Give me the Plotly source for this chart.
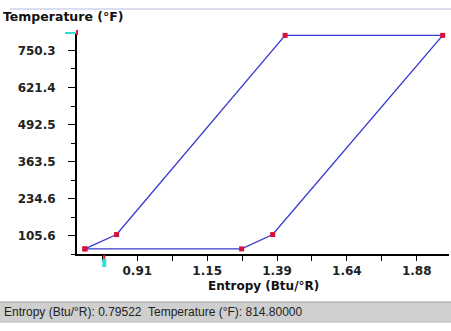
import plotly.graph_objects as go

# ---- data ----
entropy = [0.728, 0.838, 1.423, 1.970, 1.380, 1.272, 0.728]      # Btu/°R
temperature = [59.0, 109.0, 803.0, 803.0, 109.0, 59.0, 59.0]     # °F

x_tickvals = [0.91, 1.1525, 1.395, 1.6375, 1.88]
x_ticktext = ["0.91", "1.15", "1.39", "1.64", "1.88"]
x_minor = [0.78875, 1.03125, 1.27375, 1.51625, 1.75875]
x_range = [0.7006, 1.992]

y_tickvals = [105.6, 234.6, 363.5, 492.5, 621.4, 750.3]
y_ticktext = ["105.6", "234.6", "363.5", "492.5", "621.4", "750.3"]
y_minor = [41.2, 170.1, 299.0, 428.0, 556.9, 685.9, 814.8]
y_range = [41.2, 814.8]

cursor_entropy = 0.79522
cursor_temperature = 814.80000

# ---- layout geometry (pixels) ----
W, H = 451, 331
L, R, T, B = 77, 2, 32, 77
PW = W - L - R
PH = H - T - B


def px_x(px):
    return (px - L) / PW


def px_y(py):
    return (H - B - py) / PH


fig = go.Figure()
fig.add_trace(go.Scatter(
    x=entropy, y=temperature, mode="lines+markers",
    line=dict(color="#3a3ad0", width=1.4),
    marker=dict(color="#d8103c", size=5, symbol="square"),
    cliponaxis=False, hoverinfo="skip", showlegend=False,
))

tickfont = dict(family="DejaVu Sans", size=12, color="#222222", weight="bold")

fig.update_xaxes(
    range=x_range, tickvals=x_tickvals, ticktext=x_ticktext,
    showgrid=False, zeroline=False, showline=True, linecolor="black", linewidth=2,
    ticks="outside", ticklen=5, tickwidth=1, tickcolor="black",
    tickfont=tickfont,
    minor=dict(tickvals=x_minor, ticks="outside", ticklen=5, tickwidth=1, tickcolor="black", showgrid=False),
)
fig.update_yaxes(
    range=y_range, tickvals=y_tickvals, ticktext=y_ticktext,
    showgrid=False, zeroline=False, showline=True, linecolor="black", linewidth=2,
    ticks="outside", ticklen=7, tickwidth=1, tickcolor="black",
    tickfont=tickfont, ticklabelstandoff=10,
    minor=dict(tickvals=y_minor, ticks="outside", ticklen=4, tickwidth=1, tickcolor="black", showgrid=False),
)

shapes = [
    # status bar
    dict(type="rect", xref="paper", yref="paper", x0=px_x(-2), x1=px_x(W + 2), y0=px_y(322), y1=px_y(302),
         fillcolor="#cfcfcf", line=dict(width=0), layer="below"),
    dict(type="line", xref="paper", yref="paper", x0=px_x(-2), x1=px_x(W + 2), y0=px_y(302), y1=px_y(302),
         line=dict(color="#9a9a9a", width=1)),
    dict(type="line", xref="paper", yref="paper", x0=px_x(-2), x1=px_x(W + 2), y0=px_y(322), y1=px_y(322),
         line=dict(color="#b8b8b8", width=1)),
    # faint window line at top
    dict(type="line", xref="paper", yref="paper", x0=px_x(10), x1=px_x(W + 2), y0=px_y(9), y1=px_y(9),
         line=dict(color="#b4bce0", width=1)),
    # cursor markers
    dict(type="line", xref="paper", yref="y", x0=px_x(65), x1=px_x(76), y0=cursor_temperature, y1=cursor_temperature,
         line=dict(color="#30e0d8", width=4)),
    dict(type="line", xref="paper", yref="paper", x0=px_x(77), x1=px_x(77), y0=px_y(30), y1=px_y(35),
         line=dict(color="#e02030", width=2)),
    dict(type="line", xref="x", yref="paper", x0=cursor_entropy, x1=cursor_entropy, y0=px_y(255), y1=px_y(259),
         line=dict(color="#e02030", width=2)),
    dict(type="line", xref="x", yref="paper", x0=cursor_entropy, x1=cursor_entropy, y0=px_y(259), y1=px_y(267),
         line=dict(color="#30e0d8", width=4)),
]

annotations = [
    dict(text="Temperature (°F)", xref="paper", yref="paper", x=px_x(1), y=px_y(16),
         xanchor="left", yanchor="middle", showarrow=False,
         font=dict(family="DejaVu Sans", size=12.5, color="#111111", weight="bold")),
    dict(text="Entropy (Btu/°R)", xref="paper", yref="paper", x=px_x(263), y=px_y(286),
         xanchor="center", yanchor="middle", showarrow=False,
         font=dict(family="DejaVu Sans", size=12, color="#111111", weight="bold")),
    dict(text="Entropy (Btu/°R): %.5f  Temperature (°F): %.5f" % (cursor_entropy, cursor_temperature),
         xref="paper", yref="paper", x=px_x(2), y=px_y(312),
         xanchor="left", yanchor="middle", showarrow=False,
         font=dict(family="Liberation Sans", size=12, color="#222222")),
]

fig.update_layout(
    width=W, height=H, margin=dict(l=L, r=R, t=T, b=B),
    paper_bgcolor="white", plot_bgcolor="white",
    shapes=shapes, annotations=annotations, showlegend=False,
)

fig.write_html(
    "out.html",
    config={"displayModeBar": False},
    post_script="document.body.style.margin='0';document.body.style.padding='0';document.body.style.overflow='hidden';",
)
